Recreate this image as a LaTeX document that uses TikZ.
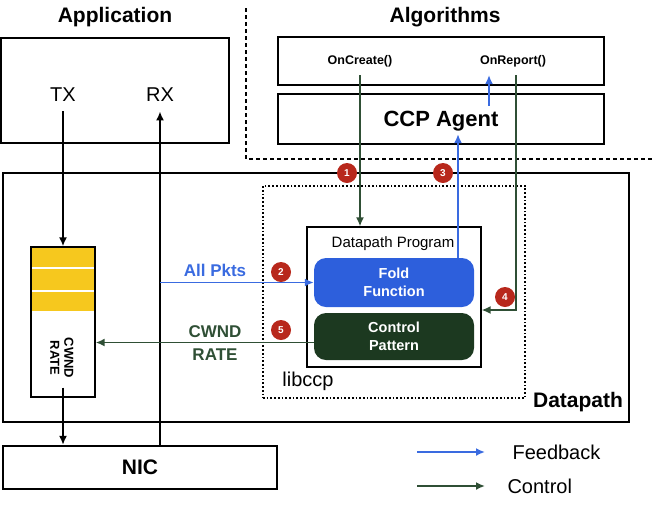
\documentclass[tikz,border=0pt]{standalone}
\usepackage{fontspec}
\setmainfont{Liberation Sans}
\usepackage{xcolor}
\usepackage{tikz}
\usetikzlibrary{arrows.meta}

\definecolor{fbblue}{HTML}{3A6BE0}
\definecolor{foldblue}{HTML}{2D5FDC}
\definecolor{ctrlgreen}{HTML}{2F4F35}
\definecolor{patgreen}{HTML}{1C3920}
\definecolor{stepred}{HTML}{B8281C}
\definecolor{qyellow}{HTML}{F6C81E}

\begin{document}
\begin{tikzpicture}[x=1pt, y=-1pt, >={Latex[length=9pt,width=8pt]},
  box/.style={draw, line width=2.3pt, inner sep=0pt},
  title/.style={font=\fontsize{21}{24}\selectfont\bfseries},
  hook/.style={font=\fontsize{12.5}{14}\selectfont\bfseries, inner ysep=8pt},
  fb/.style={->, fbblue, line width=1.9pt},
  ctrl/.style={->, ctrlgreen, line width=1.9pt},
  plain/.style={->, black, line width=1.9pt},
  stepno/.style={circle, fill=stepred, text=white, inner sep=0pt, minimum size=20pt,
    font=\fontsize{10}{10}\selectfont\bfseries},
  inner/.style={rounded corners=12pt, minimum width=160pt, text=white, align=center,
    inner sep=0pt, font=\fontsize{14.5}{18.5}\selectfont\bfseries}]
\useasboundingbox (0,0) rectangle (652,504);

%--- Application side ---
\node[title] (apptitle) at (115,17) {Application};
\node[box, minimum width=228pt, minimum height=105pt] (app) at (115,90.5) {};
\node[font=\fontsize{20}{22}\selectfont] (tx) at (63,95) {TX};
\node[font=\fontsize{20}{22}\selectfont] (rx) at (160,95) {RX};

%--- Algorithms (user space) ---
\draw[line width=1.9pt, dash pattern=on 4pt off 3pt] (246,8) -- (246,159) -- (652,159);
\node[title] (algtitle) at (445,17) {Algorithms};
\node[box, minimum width=326pt, minimum height=48pt] (hooks) at (441,61) {};
\node[hook] (oncreate) at (360,61) {OnCreate()};
\node[hook] (onreport) at (513,61) {OnReport()};
\node[box, minimum width=326pt, minimum height=50pt, text depth=0pt,
  font=\fontsize{22}{24}\selectfont\bfseries] (agent) at (441,119) {CCP Agent};

%--- Datapath ---
\node[box, minimum width=626pt, minimum height=249pt] (dp) at (316,297.5) {};
\node[title] (dplabel) at (578,402) {Datapath};
\node[draw, line width=1.7pt, dotted, minimum width=262pt, minimum height=212pt] (lib) at (394,292) {};
\node[font=\fontsize{20}{22}\selectfont] (libname) at (308,381) {libccp};
\node[draw, line width=1.1pt, minimum width=174pt, minimum height=140pt] (dpprog) at (394,297) {};
\node[font=\fontsize{15}{17}\selectfont] (dptitle) at (393,244) {Datapath Program};
\node[inner, fill=foldblue, minimum height=49pt] (fold) at (394,282.5) {Fold\\Function};
\node[inner, fill=patgreen, minimum height=47pt] (pattern) at (394,336.5) {Control\\Pattern};

% Queue
\fill[qyellow] (31,247) rectangle (95,311);
\draw[white, line width=1.5pt] (31,268) -- (95,268) (31,291) -- (95,291);
\node[draw, line width=1.3pt, minimum width=64pt, minimum height=150pt] (queue) at (63,322) {};
\node[rotate=-90, align=center, font=\fontsize{13}{14}\selectfont\bfseries] (qlabel) at (62,358) {CWND\\RATE};

%--- NIC ---
\node[box, title, minimum width=274pt, minimum height=43pt] (nic) at (140,467.5) {NIC};

% Packet path
\draw[plain] ([yshift=-6pt]tx.south) -- (tx.south |- queue.north);
\draw[plain] ([yshift=10pt]queue.south) -- (queue.south |- nic.north);
\draw[plain] (nic.north -| rx.south) -- ([yshift=-6pt]rx.south);

% Control and feedback paths
\draw[ctrl] (oncreate.south) -- (oncreate.south |- dpprog.north);
\draw[ctrl] ([xshift=3pt]onreport.south) |- ([yshift=-13pt]dpprog.east);
\draw[fb] ([xshift=48pt,yshift=-13pt]agent.north) -- ([xshift=48pt]agent.north |- onreport.south);
\coordinate (agentin) at ([yshift=11pt]agent.south);
\draw[fb] ([xshift=64pt]fold.north) -- ([xshift=64pt]fold.north |- agentin);
\draw[fb] (fold.west -| rx.south) -- (fold.west);
\draw[ctrl] ([yshift=-6pt]pattern.west) -- ([yshift=-6pt]pattern.west -| queue.east);

\node[fbblue, font=\fontsize{17}{19}\selectfont\bfseries] (pkts) at (215,270) {All Pkts};
\node[ctrlgreen, font=\fontsize{17}{19}\selectfont\bfseries] (cwnd) at (215,332) {CWND};
\node[ctrlgreen, font=\fontsize{17}{19}\selectfont\bfseries] (rate) at (215,355) {RATE};

% Step markers
\node[stepno] (s1) at (347,173) {1};
\node[stepno] (s2) at (281,272) {2};
\node[stepno] (s3) at (443,173) {3};
\node[stepno] (s4) at (505,297) {4};
\node[stepno] (s5) at (281,330) {5};

%--- Legend ---
\node[font=\fontsize{20}{22}\selectfont, anchor=west] (fblabel) at (509,452) {Feedback};
\node[font=\fontsize{20}{22}\selectfont, anchor=west] (ctrllabel) at (504,486) {Control};
\draw[fb] ([xshift=-92pt]fblabel.west) -- ([xshift=-24pt]fblabel.west);
\draw[ctrl] ([xshift=-87pt]ctrllabel.west) -- ([xshift=-19pt]ctrllabel.west);
\end{tikzpicture}
\end{document}
